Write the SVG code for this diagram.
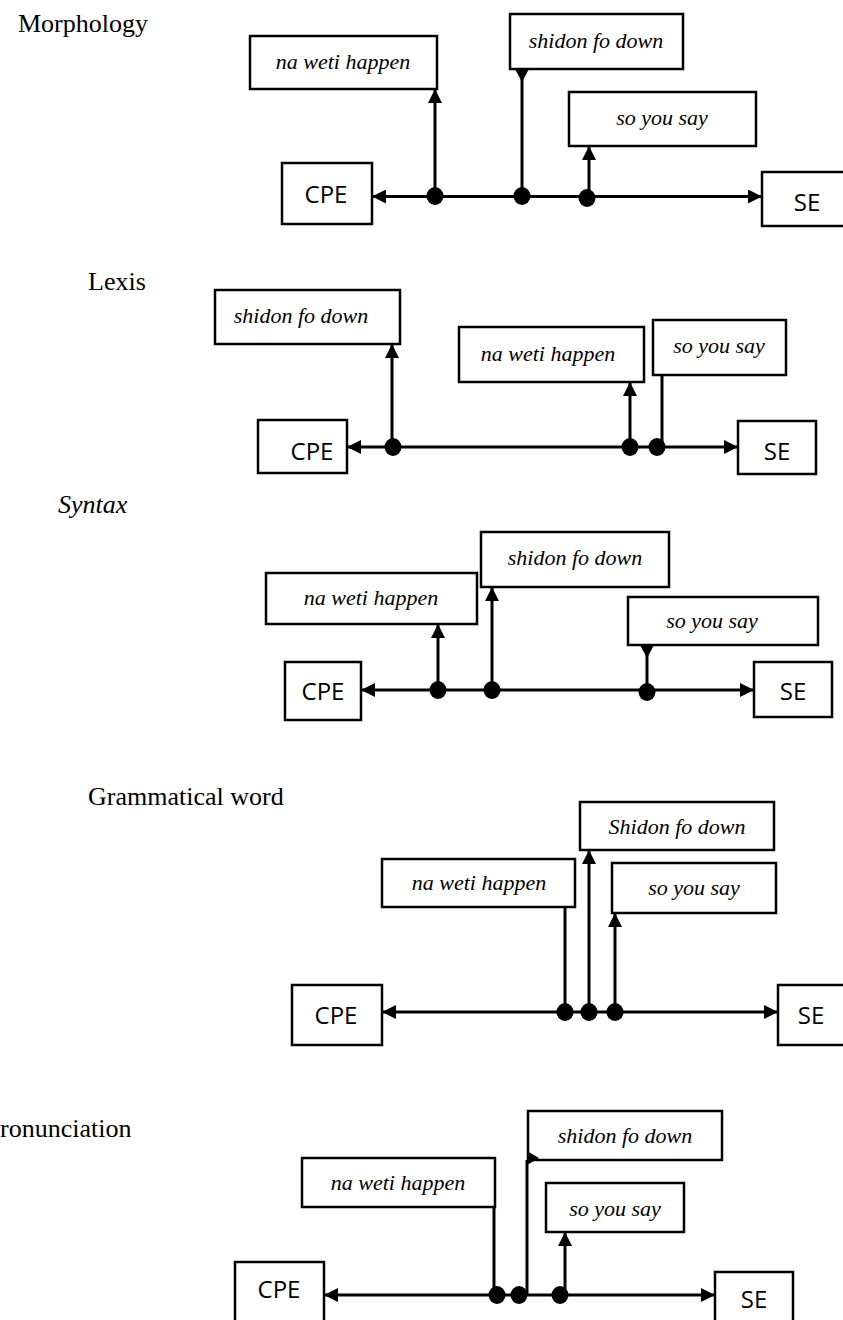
<svg xmlns="http://www.w3.org/2000/svg" width="843" height="1320" viewBox="0 0 843 1320">
<defs>
<style>
.box{fill:#fff;stroke:#000;stroke-width:2.5}
.lbl{font-family:"Liberation Serif",serif;font-style:italic;font-size:22px;fill:#000;text-anchor:middle}
.end{font-family:"Open Sans","Noto Sans",sans-serif;font-size:24px;fill:#000;text-anchor:middle}
.hdr{font-family:"Liberation Serif",serif;font-size:26px;fill:#000}
.ln{fill:none;stroke:#000;stroke-width:3}
.main{marker-start:url(#ah);marker-end:url(#ah)}
.up{marker-end:url(#ah)}
.dot{fill:#000}
</style>
<marker id="ah" viewBox="0 0 10 10" refX="10" refY="5" markerUnits="userSpaceOnUse" markerWidth="15" markerHeight="14" orient="auto-start-reverse">
<path d="M0,0 L10,5 L0,10 z" fill="#000"/>
</marker>
</defs>

<!-- Panel 1: Morphology -->
<text class="hdr" x="18" y="32" font-size="27">Morphology</text>
<g id="p1-nwh"><rect class="box" x="250" y="36" width="187" height="53"/><text class="lbl" x="343" y="69">na weti happen</text></g>
<g id="p1-sfd"><rect class="box" x="510" y="14" width="173" height="55"/><text class="lbl" x="596" y="48">shidon fo down</text></g>
<g id="p1-sys"><rect class="box" x="569" y="92" width="187" height="54"/><text class="lbl" x="662" y="125">so you say</text></g>
<g id="p1-cpe"><rect class="box" x="282" y="163" width="90" height="61"/><text class="end" x="326" y="203">CPE</text></g>
<g id="p1-se"><rect class="box" x="762" y="172" width="84" height="54"/><text class="end" x="807" y="211">SE</text></g>
<g id="p1-conn">
<path class="ln main" d="M372,196.5 L762,196.5"/>
<path class="ln up" d="M435,196 L435,89"/>
<path class="ln" d="M522,196 L522,69"/>
<path d="M515,69 L529,69 L522,82 z" fill="#000"/>
<path class="ln up" d="M589,198 L589,146"/>
<ellipse class="dot" cx="435" cy="196" rx="8.5" ry="9"/>
<ellipse class="dot" cx="522" cy="196" rx="8.5" ry="9"/>
<ellipse class="dot" cx="587" cy="198" rx="8.5" ry="9"/>
</g>

<!-- Panel 2: Lexis -->
<text class="hdr" x="88" y="290">Lexis</text>
<g id="p2-sfd"><rect class="box" x="215" y="290" width="185" height="54"/><text class="lbl" x="301" y="323">shidon fo down</text></g>
<g id="p2-nwh"><rect class="box" x="459" y="327" width="185" height="55"/><text class="lbl" x="548" y="361">na weti happen</text></g>
<g id="p2-sys"><rect class="box" x="653" y="320" width="133" height="55"/><text class="lbl" x="719" y="353">so you say</text></g>
<g id="p2-cpe"><rect class="box" x="258" y="420" width="89" height="53"/><text class="end" x="312" y="460">CPE</text></g>
<g id="p2-se"><rect class="box" x="738" y="421" width="78" height="53"/><text class="end" x="777" y="460">SE</text></g>
<g id="p2-conn">
<path class="ln main" d="M347,447 L738,447"/>
<path class="ln up" d="M392,447 L392,344"/>
<path class="ln up" d="M630,447 L630,382"/>
<path class="ln" d="M662,447 L662,375"/>
<ellipse class="dot" cx="393" cy="447" rx="8.5" ry="9"/>
<ellipse class="dot" cx="630" cy="447" rx="8.5" ry="9"/>
<ellipse class="dot" cx="657" cy="447" rx="8.5" ry="9"/>
</g>

<!-- Panel 3: Syntax -->
<text class="hdr" x="58" y="513" font-style="italic">Syntax</text>
<g id="p3-sfd"><rect class="box" x="481" y="532" width="188" height="55"/><text class="lbl" x="575" y="565">shidon fo down</text></g>
<g id="p3-nwh"><rect class="box" x="266" y="573" width="211" height="51"/><text class="lbl" x="371" y="605">na weti happen</text></g>
<g id="p3-sys"><rect class="box" x="628" y="597" width="190" height="48"/><text class="lbl" x="712" y="628">so you say</text></g>
<g id="p3-cpe"><rect class="box" x="285" y="662" width="76" height="58"/><text class="end" x="323" y="700">CPE</text></g>
<g id="p3-se"><rect class="box" x="754" y="662" width="78" height="55"/><text class="end" x="793" y="700">SE</text></g>
<g id="p3-conn">
<path class="ln main" d="M361,690 L754,690"/>
<path class="ln up" d="M438,690 L438,624"/>
<path class="ln up" d="M492,690 L492,587"/>
<path class="ln" d="M647,690 L647,645"/>
<path d="M640,645 L654,645 L647,658 z" fill="#000"/>
<ellipse class="dot" cx="438" cy="690" rx="8.5" ry="9"/>
<ellipse class="dot" cx="492" cy="690" rx="8.5" ry="9"/>
<ellipse class="dot" cx="647" cy="692" rx="8.5" ry="9"/>
</g>

<!-- Panel 4: Grammatical word -->
<text class="hdr" x="88" y="805">Grammatical word</text>
<g id="p4-sfd"><rect class="box" x="580" y="802" width="194" height="48"/><text class="lbl" x="677" y="834">Shidon fo down</text></g>
<g id="p4-nwh"><rect class="box" x="382" y="859" width="193" height="48"/><text class="lbl" x="479" y="890">na weti happen</text></g>
<g id="p4-sys"><rect class="box" x="612" y="863" width="164" height="50"/><text class="lbl" x="694" y="895">so you say</text></g>
<g id="p4-cpe"><rect class="box" x="292" y="985" width="90" height="60"/><text class="end" x="336" y="1024">CPE</text></g>
<g id="p4-se"><rect class="box" x="778" y="985" width="70" height="60"/><text class="end" x="811" y="1024">SE</text></g>
<g id="p4-conn">
<path class="ln main" d="M382,1012 L778,1012"/>
<path class="ln" d="M565,1012 L565,907"/>
<path class="ln up" d="M589,1012 L589,850"/>
<path class="ln up" d="M615,1012 L615,913"/>
<ellipse class="dot" cx="565" cy="1012" rx="8.5" ry="9"/>
<ellipse class="dot" cx="589" cy="1012" rx="8.5" ry="9"/>
<ellipse class="dot" cx="615" cy="1012" rx="8.5" ry="9"/>
</g>

<!-- Panel 5: Pronunciation -->
<text class="hdr" x="0" y="1137" font-size="27">ronunciation</text>
<g id="p5-sfd"><rect class="box" x="528" y="1111" width="194" height="49"/><text class="lbl" x="625" y="1143">shidon fo down</text></g>
<g id="p5-nwh"><rect class="box" x="302" y="1158" width="193" height="49"/><text class="lbl" x="398" y="1190">na weti happen</text></g>
<g id="p5-sys"><rect class="box" x="546" y="1183" width="138" height="49"/><text class="lbl" x="615" y="1216">so you say</text></g>
<g id="p5-cpe"><rect class="box" x="235" y="1262" width="89" height="62"/><text class="end" x="279" y="1298">CPE</text></g>
<g id="p5-se"><rect class="box" x="715" y="1272" width="78" height="52"/><text class="end" x="754" y="1308">SE</text></g>
<g id="p5-conn">
<path class="ln main" d="M324,1295 L715,1295"/>
<path class="ln" d="M494,1295 L494,1207"/>
<path class="ln" d="M527,1295 L527,1160"/>
<path d="M527,1151 L539,1158 L527,1165 z" fill="#000"/>
<path class="ln up" d="M565,1295 L565,1232"/>
<ellipse class="dot" cx="497" cy="1295" rx="8.5" ry="9"/>
<ellipse class="dot" cx="519" cy="1295" rx="8.5" ry="9"/>
<ellipse class="dot" cx="560" cy="1295" rx="8.5" ry="9"/>
</g>
</svg>
